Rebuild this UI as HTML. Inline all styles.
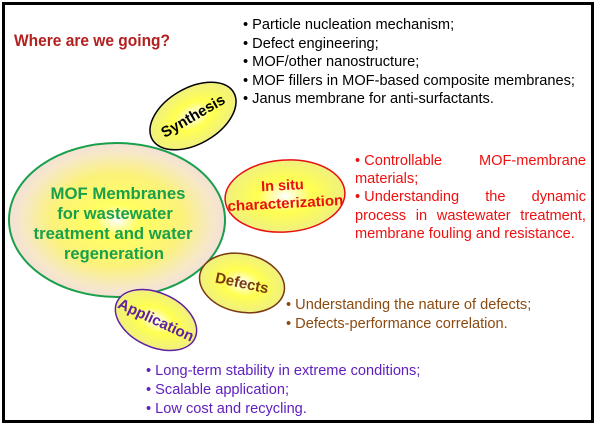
<!DOCTYPE html>
<html><head><meta charset="utf-8"><style>
html,body{margin:0;padding:0;background:#fff}
svg{display:block;font-family:"Liberation Sans",Arial,sans-serif}
.t{position:absolute;font-family:"Liberation Sans",Arial,sans-serif;font-size:14.6px;line-height:18.5px;white-space:nowrap}
#red{left:355px;top:152px;width:231px;white-space:normal;text-align:justify;color:#ee1010;line-height:18.2px}
.nb{display:inline-block;white-space:nowrap}
</style></head><body>
<div style="position:relative;width:600px;height:426px;overflow:hidden">
<svg width="600" height="426" viewBox="0 0 600 426" xmlns="http://www.w3.org/2000/svg" style="position:absolute;left:0;top:0">
<defs>
<radialGradient id="gm" cx="50%" cy="50%" r="50%">
<stop offset="0" stop-color="#ffffff"/><stop offset="0.2" stop-color="#ffff60"/><stop offset="0.6" stop-color="#fbf27a"/><stop offset="0.88" stop-color="#f7e8c8"/><stop offset="1" stop-color="#f3e0d6"/></radialGradient>
<radialGradient id="gs" cx="50%" cy="50%" r="50%">
<stop offset="0" stop-color="#ffffff"/><stop offset="0.45" stop-color="#ffff50"/><stop offset="1" stop-color="#f0f080"/></radialGradient>
</defs>
<rect x="3.5" y="3.5" width="589" height="418" fill="#fff" stroke="#000" stroke-width="3"/>
<text x="14" y="46" font-size="16.5" font-weight="bold" fill="#b32020" textLength="156" lengthAdjust="spacingAndGlyphs">Where are we going?</text>

<ellipse cx="117" cy="220" rx="108" ry="77" fill="url(#gm)" stroke="#1aa04a" stroke-width="2"/>
<g font-size="16.5" font-weight="bold" fill="#1aa04a" text-anchor="middle">
<text x="118" y="199" textLength="135" lengthAdjust="spacingAndGlyphs">MOF Membranes</text>
<text x="115" y="219">for wastewater</text>
<text x="113" y="239" textLength="159" lengthAdjust="spacingAndGlyphs">treatment and water</text>
<text x="114" y="259">regeneration</text>
</g>

<ellipse cx="193" cy="116" rx="47" ry="28" transform="rotate(-30 193 116)" fill="url(#gs)" stroke="#000" stroke-width="1.5"/>
<text x="193" y="121" font-size="15" font-weight="bold" text-anchor="middle" transform="rotate(-30 193 116)">Synthesis</text>

<ellipse cx="285" cy="196" rx="60" ry="36" transform="rotate(-4 285 196)" fill="url(#gs)" stroke="#e81010" stroke-width="1.5"/>
<g font-size="14.5" font-weight="bold" fill="#e81010" text-anchor="middle" transform="rotate(-3 285 196)">
<text x="283" y="190">In situ</text>
<text x="285" y="208" textLength="116" lengthAdjust="spacingAndGlyphs">characterization</text>
</g>

<ellipse cx="242" cy="283" rx="43" ry="29" transform="rotate(12 242 283)" fill="url(#gs)" stroke="#7a3a10" stroke-width="1.5"/>
<text x="242" y="288" font-size="15" font-weight="bold" fill="#7a3a10" text-anchor="middle" transform="rotate(12 242 283)">Defects</text>

<ellipse cx="156" cy="320" rx="43" ry="27" transform="rotate(25 156 320)" fill="url(#gs)" stroke="#6020a0" stroke-width="1.5"/>
<text x="156" y="325" font-size="15" font-weight="bold" fill="#6020a0" text-anchor="middle" transform="rotate(25 156 320)">Application</text>
</svg>

<div class="t" style="left:243px;top:16px;color:#000">• Particle nucleation mechanism;<br>• Defect engineering;<br>• MOF/other nanostructure;<br>• MOF fillers in MOF-based composite membranes;<br>• Janus membrane for anti-surfactants.</div>

<div class="t" id="red"><span class="nb">• Controllable</span> MOF-membrane materials;<br><span class="nb">• Understanding</span> the dynamic process in wastewater treatment, membrane fouling and resistance.</div>

<div class="t" style="left:286px;top:296px;color:#8a4a10;line-height:19px">• Understanding the nature of defects;<br>• Defects-performance correlation.</div>

<div class="t" style="left:146px;top:362px;color:#6020c0;line-height:19px">• Long-term stability in extreme conditions;<br>• Scalable application;<br>• Low cost and recycling.</div>
</div>
</body></html>
